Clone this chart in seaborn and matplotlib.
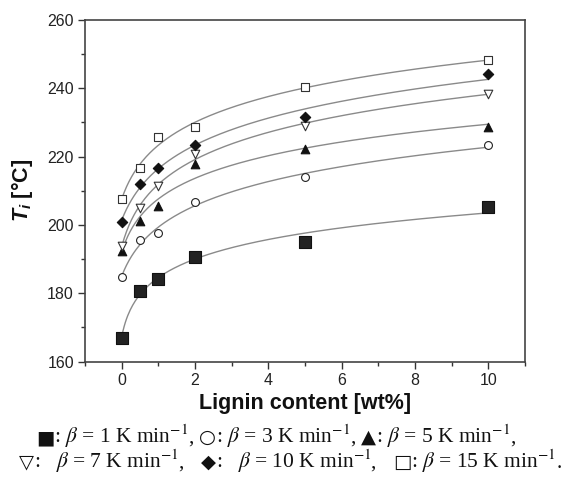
import numpy as np
import pandas as pd
import matplotlib
matplotlib.use("Agg")
import matplotlib.pyplot as plt
import seaborn as sns
from matplotlib.ticker import MultipleLocator

# ---- data ----
lignin = [0, 0.5, 1, 2, 5, 10]
ti_1K = [167.0, 180.5, 184.1, 190.7, 195.0, 205.2]
ti_3K = [184.7, 195.6, 197.7, 206.6, 214.1, 223.3]
ti_5K = [192.4, 201.1, 205.6, 217.8, 222.1, 228.6]
ti_7K = [193.8, 205.0, 211.5, 220.8, 229.0, 238.3]
ti_10K = [200.9, 212.0, 216.6, 223.5, 231.5, 244.2]
ti_15K = [207.6, 216.6, 225.6, 228.7, 240.3, 248.3]
series_names = ["1 K", "3 K", "5 K", "7 K", "10 K", "15 K"]
rates = ["1", "3", "5", "7", "10", "15"]
symbols = ["■", "○", "▲", "▽", "◆", "□"]
xticks = [0, 2, 4, 6, 8, 10]
yticks = [160, 180, 200, 220, 240, 260]

series = [ti_1K, ti_3K, ti_5K, ti_7K, ti_10K, ti_15K]
styles = [
    dict(marker="s", s=85, facecolor="#222222", edgecolor="#111111"),
    dict(marker="o", s=32, facecolor="white", edgecolor="#222222"),
    dict(marker="^", s=38, facecolor="#111111", edgecolor="#111111"),
    dict(marker="v", s=38, facecolor="white", edgecolor="#333333"),
    dict(marker="D", s=28, facecolor="#111111", edgecolor="#111111"),
    dict(marker="s", s=28, facecolor="white", edgecolor="#333333"),
]

def log_fit(x, y):
    x = np.asarray(x, float); y = np.asarray(y, float)
    best = None
    for c in np.logspace(-3, 1, 400):
        A = np.column_stack([np.ones_like(x), np.log(x + c)])
        coef, *_ = np.linalg.lstsq(A, y, rcond=None)
        r = np.sum((A @ coef - y) ** 2)
        if best is None or r < best[0]:
            best = (r, coef, c)
    _, (a, b), c = best
    return lambda t: a + b * np.log(t + c)

sns.set_style("white")
plt.rcParams["font.family"] = ["Liberation Sans", "DejaVu Sans"]
plt.rcParams["mathtext.fontset"] = "custom"
plt.rcParams["mathtext.it"] = "Liberation Sans:italic:bold"
plt.rcParams["mathtext.rm"] = "Liberation Sans:bold"
plt.rcParams["mathtext.bf"] = "Liberation Sans:bold"

fig = plt.figure(figsize=(5.77, 4.79), dpi=100)
ax = fig.add_axes([85 / 577, 1 - 361.5 / 479, 440 / 577, 341.5 / 479])

xs = np.linspace(0, 10, 300)
for name, ys, st in zip(series_names, series, styles):
    f = log_fit(lignin, ys)
    fit_df = pd.DataFrame({"x": xs, "y": f(xs)})
    sns.lineplot(data=fit_df, x="x", y="y", ax=ax, color="#8a8a8a", lw=1.0, zorder=1)
    df = pd.DataFrame({"x": lignin, "y": ys})
    sns.scatterplot(data=df, x="x", y="y", ax=ax, marker=st["marker"], s=st["s"],
                    color=st["facecolor"], edgecolor=st["edgecolor"], linewidth=0.8, zorder=3)

ax.set_xlim(-1, 11)
ax.set_ylim(160, 260)
ax.set_xticks(xticks)
ax.set_yticks(yticks)
ax.xaxis.set_minor_locator(MultipleLocator(1))
ax.yaxis.set_minor_locator(MultipleLocator(10))
ax.tick_params(which="major", direction="out", length=5, width=1, colors="#333333",
               labelsize=11.5, labelcolor="#222222", bottom=True, left=True, top=False, right=False, pad=3)
ax.tick_params(which="minor", direction="out", length=3, width=1, colors="#333333",
               bottom=True, left=True, top=False, right=False)
for sp in ax.spines.values():
    sp.set_color("#444444")
    sp.set_linewidth(1.2)

ax.set_xlabel("Lignin content [wt%]", fontsize=15.5, fontweight="bold", color="#111111", labelpad=4)
ax.set_ylabel(r"$T_i$ [°C]", fontsize=15.5, fontweight="bold", color="#111111", labelpad=9)
ax.yaxis.label.set_math_fontfamily("custom")

# ---- caption built from chained text pieces ----
renderer = fig.canvas.get_renderer()
W, H = fig.bbox.width, fig.bbox.height
CAP_FS = 15.5

def chain(pieces, x0_px, y_px):
    x = x0_px
    for txt, kind in pieces:
        if kind == "sym":
            t = fig.text(x / W, 1 - y_px / H, txt, fontsize=14, family="DejaVu Sans",
                         va="baseline", ha="left", color="#111111")
        else:
            t = fig.text(x / W, 1 - y_px / H, txt, fontsize=CAP_FS, family="Liberation Serif",
                         va="baseline", ha="left", color="#111111")
            t.set_math_fontfamily("stix")
        x += t.get_window_extent(renderer).width

def entry(i, sep):
    return [(symbols[i], "sym"),
            (r":" + sep + r"$\beta$ = " + rates[i] + r" K min$^{-1}$", "txt")]

line1 = entry(0, " ") + [(", ", "txt")] + entry(1, " ") + [(", ", "txt")] + entry(2, " ") + [(",", "txt")]
line2 = entry(3, "   ") + [(",   ", "txt")] + entry(4, "   ") + [(",   ", "txt")] + entry(5, " ") + [(".", "txt")]
chain(line1, 36, 443)
chain(line2, 19, 468)

fig.savefig("out.png", dpi=100)
